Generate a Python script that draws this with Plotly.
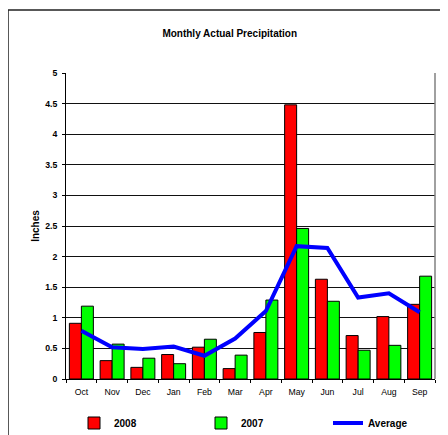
import plotly.graph_objects as go

months = ["Oct", "Nov", "Dec", "Jan", "Feb", "Mar", "Apr", "May", "Jun", "Jul", "Aug", "Sep"]
y2008 = [0.91, 0.30, 0.19, 0.40, 0.52, 0.17, 0.76, 4.48, 1.63, 0.71, 1.02, 1.22]
y2007 = [1.19, 0.57, 0.34, 0.25, 0.65, 0.39, 1.29, 2.46, 1.27, 0.47, 0.55, 1.68]
avg = [0.79, 0.52, 0.49, 0.53, 0.38, 0.66, 1.11, 2.17, 2.14, 1.33, 1.40, 1.09]
yticks = [0, 0.5, 1, 1.5, 2, 2.5, 3, 3.5, 4, 4.5, 5]

FONT = "Arial, Liberation Sans, sans-serif"
W, H = 440, 427
LEG_Y = 1 - 415 / H

fig = go.Figure()
fig.add_trace(go.Bar(x=months, y=y2008, name="2008", legend="legend",
                     marker=dict(color="#FF0000", line=dict(color="#000000", width=1))))
fig.add_trace(go.Bar(x=months, y=y2007, name="2007", legend="legend",
                     marker=dict(color="#00FF00", line=dict(color="#000000", width=1))))
fig.add_trace(go.Scatter(x=months, y=avg, name="Average", mode="lines", legend="legend2",
                         line=dict(color="#0000FF", width=4)))

legfont = dict(family=FONT, size=10, weight="bold", color="#000000")

fig.update_layout(
    width=W, height=H,
    margin=dict(l=58, r=13, t=65, b=56),
    paper_bgcolor="white", plot_bgcolor="white",
    barmode="group", bargap=0.22, bargroupgap=0,
    font=dict(family=FONT, size=8.7, color="#000000"),
    title=dict(text="Monthly Actual Precipitation", x=221.7 / W, xref="container", xanchor="center",
               y=1 - 25 / H, yanchor="middle", yref="container",
               font=dict(family=FONT, size=10, color="#000000", weight="bold")),
    showlegend=True,
    legend=dict(orientation="h", x=66 / W, xref="container", xanchor="left",
                y=LEG_Y, yref="container", yanchor="middle", borderwidth=0,
                entrywidth=82, entrywidthmode="pixels", traceorder="normal",
                font=legfont, bgcolor="rgba(0,0,0,0)"),
    legend2=dict(orientation="h", x=320 / W, xref="container", xanchor="left",
                 y=LEG_Y, yref="container", yanchor="middle", borderwidth=0,
                 font=legfont, bgcolor="rgba(0,0,0,0)"),
    xaxis=dict(type="category", showgrid=False, showline=True, linecolor="#000000", linewidth=1,
               ticks="outside", ticklen=3, tickcolor="#000000", tickson="boundaries",
               ticklabelstandoff=5, automargin=False,
               tickfont=dict(family=FONT, size=8.7, color="#000000")),
    yaxis=dict(range=[0, 5], tickvals=yticks, ticktext=[f"{v:g}" for v in yticks],
               showgrid=True, gridcolor="#111111", gridwidth=1, zeroline=False,
               showline=True, linecolor="#000000", linewidth=1,
               ticks="outside", ticklen=3, tickcolor="#000000",
               ticklabelstandoff=3, automargin=False,
               tickfont=dict(family=FONT, size=8.7, color="#000000", weight="bold"),
               title=dict(text="Inches", standoff=3, font=dict(family=FONT, size=10, weight="bold"))),
    shapes=[
        dict(type="line", xref="paper", yref="paper", x0=1, x1=1, y0=0, y1=1,
             line=dict(color="#808080", width=1.5)),
        dict(type="rect", xref="paper", yref="paper", x0=(8 - 66) / 369, x1=1.06, y0=1.206, y1=-0.2,
             line=dict(color="#222222", width=1.5)),
    ],
)

fig.write_html("out.html")
